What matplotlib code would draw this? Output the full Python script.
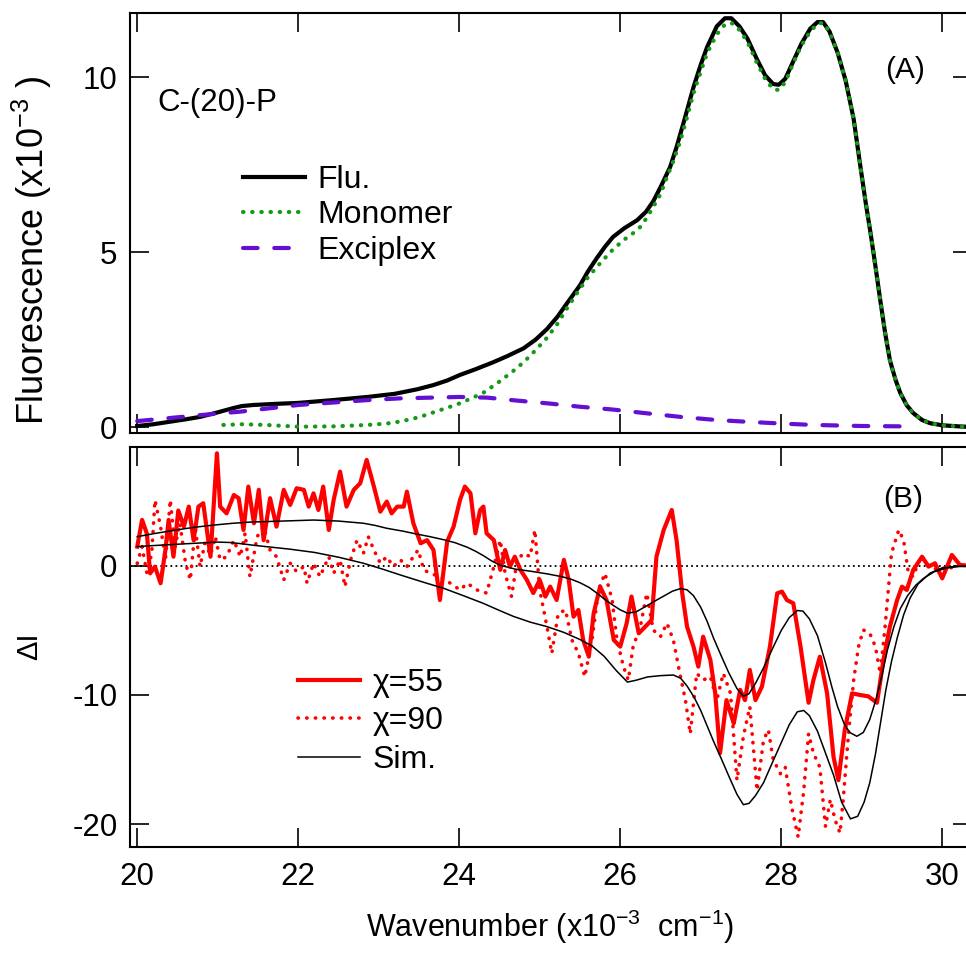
import matplotlib
matplotlib.use("Agg")
import matplotlib.pyplot as plt

plt.rcParams['font.family'] = ['Liberation Sans', 'DejaVu Sans']
plt.rcParams['mathtext.fontset'] = 'custom'
plt.rcParams['mathtext.rm'] = 'Liberation Sans'
plt.rcParams['mathtext.it'] = 'Liberation Sans:italic'
plt.rcParams['mathtext.bf'] = 'Liberation Sans:bold'
plt.rcParams['axes.unicode_minus'] = False

# ---- panel A: fluorescence spectrum and its decomposition (x10^-3) ----
flu_x = [20.0, 20.2, 20.4, 20.6, 20.78, 21.0, 21.19, 21.3, 21.44, 21.7, 22.0,
         22.43, 22.86, 23.2, 23.48, 23.68, 23.85, 24.01, 24.2, 24.42, 24.6, 24.8,
         24.95, 25.09, 25.22, 25.34, 25.5, 25.6, 25.71, 25.81, 25.91, 26.05, 26.21,
         26.32, 26.41, 26.5, 26.62, 26.7, 26.8, 26.91, 27.0, 27.08, 27.2, 27.3,
         27.38, 27.48, 27.58, 27.7, 27.8, 27.9, 27.97, 28.05, 28.15, 28.25, 28.36,
         28.45, 28.52, 28.6, 28.7, 28.8, 28.9, 28.98, 29.05, 29.11, 29.17, 29.23,
         29.29, 29.35, 29.42, 29.48, 29.56, 29.64, 29.75, 29.85, 30.0, 30.2, 30.37]
flu_y = [0.03, 0.08, 0.15, 0.22, 0.29, 0.42, 0.54, 0.6, 0.63, 0.66, 0.69,
         0.77, 0.86, 0.95, 1.08, 1.2, 1.33, 1.49, 1.65, 1.85, 2.03, 2.25,
         2.5, 2.8, 3.15, 3.54, 4.05, 4.45, 4.83, 5.15, 5.43, 5.68, 5.91,
         6.15, 6.45, 6.85, 7.43, 8.0, 8.8, 9.71, 10.35, 10.86, 11.45, 11.68,
         11.68, 11.45, 11.1, 10.5, 10.05, 9.8, 9.78, 9.95, 10.45, 10.95, 11.38,
         11.57, 11.57, 11.3, 10.7, 9.9, 8.8, 7.5, 6.4, 5.54, 4.6, 3.63,
         2.7, 1.91, 1.35, 0.97, 0.62, 0.4, 0.2, 0.11, 0.05, 0.02, 0.0]

mono_x = [21.07, 21.3, 21.6, 22.0, 22.44, 22.86, 23.1, 23.27, 23.5, 23.68, 23.85,
          24.01, 24.15, 24.3, 24.5, 24.67, 24.8, 24.95, 25.09, 25.22, 25.34, 25.47,
          25.59, 25.7, 25.79, 25.9, 26.04, 26.15, 26.25, 26.33, 26.41, 26.5, 26.58,
          26.66, 26.75, 26.83, 26.91, 27.0, 27.08, 27.2, 27.3, 27.38, 27.48, 27.58,
          27.7, 27.8, 27.9, 27.97, 28.05, 28.15, 28.25, 28.36, 28.45, 28.52, 28.6,
          28.7, 28.8, 28.9, 28.98, 29.05, 29.11, 29.17, 29.23, 29.29, 29.35, 29.42,
          29.48, 29.56, 29.64, 29.75, 29.85, 30.0, 30.2, 30.37]
mono_y = [0.06, 0.08, 0.06, 0.01, 0.02, 0.06, 0.1, 0.16, 0.28, 0.42, 0.55,
          0.68, 0.82, 0.98, 1.3, 1.6, 1.85, 2.2, 2.55, 2.95, 3.4, 3.85,
          4.25, 4.55, 4.78, 5.05, 5.34, 5.52, 5.72, 5.98, 6.29, 6.65, 7.14,
          7.6, 8.2, 8.85, 9.54, 10.15, 10.69, 11.22, 11.5, 11.55, 11.35, 11.0,
          10.4, 9.95, 9.65, 9.63, 9.85, 10.4, 10.9, 11.3, 11.52, 11.55, 11.3,
          10.7, 9.9, 8.8, 7.5, 6.4, 5.54, 4.6, 3.63, 2.7, 1.91, 1.35,
          0.97, 0.62, 0.4, 0.2, 0.11, 0.05, 0.02, 0.0]

exc_x = [20.0, 20.78, 21.28, 22.0, 22.86, 23.27, 24.01, 24.35, 24.7, 25.13, 25.5,
         25.91, 26.3, 26.75, 27.2, 27.58, 28.0, 28.4, 29.0, 29.5]
exc_y = [0.17, 0.34, 0.44, 0.63, 0.77, 0.82, 0.86, 0.84, 0.76, 0.67, 0.58,
         0.5, 0.4, 0.29, 0.2, 0.15, 0.1, 0.06, 0.03, 0.02]

# ---- panel B: difference spectra (measured) and simulations ----
c55_x = [20.0, 20.06, 20.12, 20.16, 20.22, 20.29, 20.35, 20.39, 20.45, 20.51, 20.58,
         20.64, 20.7, 20.76, 20.82, 20.91, 20.99, 21.03, 21.11, 21.2, 21.26, 21.32,
         21.38, 21.45, 21.51, 21.57, 21.65, 21.73, 21.82, 21.9, 21.98, 22.07, 22.13,
         22.19, 22.25, 22.31, 22.38, 22.44, 22.52, 22.6, 22.69, 22.77, 22.85, 22.94,
         23.02, 23.1, 23.16, 23.23, 23.31, 23.35, 23.43, 23.52, 23.6, 23.68, 23.76,
         23.85, 23.93, 24.01, 24.07, 24.14, 24.2, 24.26, 24.3, 24.34, 24.43, 24.51,
         24.57, 24.63, 24.69, 24.76, 24.84, 24.92, 25.0, 25.07, 25.13, 25.21, 25.3,
         25.36, 25.42, 25.48, 25.54, 25.61, 25.67, 25.75, 25.83, 25.92, 26.0, 26.08,
         26.14, 26.23, 26.31, 26.39, 26.45, 26.54, 26.64, 26.7, 26.77, 26.83, 26.91,
         26.97, 27.03, 27.12, 27.18, 27.24, 27.32, 27.41, 27.49, 27.55, 27.61, 27.68,
         27.76, 27.86, 27.95, 28.01, 28.07, 28.15, 28.24, 28.34, 28.4, 28.48, 28.57,
         28.65, 28.71, 28.79, 28.88, 28.98, 29.08, 29.19, 29.27, 29.35, 29.44, 29.5,
         29.56, 29.64, 29.75, 29.83, 29.91, 30.0, 30.12, 30.22, 30.37]
c55_y = [1.5, 3.57, 2.5, -0.57, -0.05, -1.34, 1.24, 3.57, 0.72, 4.3, 3.05,
         4.6, 2.0, 4.6, 4.86, 0.72, 8.73, 4.6, 4.08, 5.5, 5.25, 2.79,
         6.15, 3.31, 5.9, 2.0, 5.25, 3.05, 5.9, 4.73, 6.02, 5.9, 4.6,
         5.63, 4.34, 6.15, 2.79, 5.12, 7.31, 4.6, 5.9, 6.41, 8.22, 6.15,
         4.21, 4.99, 4.08, 4.6, 4.6, 5.76, 3.31, 1.76, 2.0, 1.24, -2.64,
         1.89, 3.05, 5.12, 6.15, 5.63, 2.53, 4.34, 4.6, 2.53, 2.0, -0.3,
         1.24, -0.05, 0.72, -0.3, -1.08, -2.1, -1.08, -2.37, -1.6, -2.64, 0.47,
         -1.08, -3.93, -3.41, -5.74, -7.03, -3.67, -1.6, -2.64, -5.74, -6.25, -4.44,
         -2.37, -5.22, -4.7, -4.19, 0.72, 2.79, 4.34, 2.0, -2.1, -4.7, -6.25,
         -7.8, -5.48, -7.29, -9.87, -14.5, -10.4, -12.2, -9.6, -10.4, -8.06, -10.4,
         -9.35, -6.25, -2.12, -1.99, -2.64, -2.89, -6.25, -10.6, -8.84, -7.03, -9.87,
         -14.8, -16.6, -12.7, -9.87, -10.0, -10.1, -10.6, -7.29, -4.7, -2.64, -1.6,
         -1.86, -0.3, 0.72, -0.05, 0.21, -0.96, 0.85, 0.08, 0.0]

c90_x = [20.0, 20.06, 20.12, 20.18, 20.22, 20.29, 20.35, 20.41, 20.47, 20.53, 20.6,
         20.66, 20.72, 20.78, 20.84, 20.91, 20.97, 21.03, 21.11, 21.2, 21.28, 21.34,
         21.4, 21.49, 21.57, 21.65, 21.73, 21.82, 21.9, 21.98, 22.07, 22.11, 22.19,
         22.27, 22.38, 22.44, 22.52, 22.58, 22.65, 22.73, 22.81, 22.87, 22.94, 23.02,
         23.1, 23.18, 23.27, 23.35, 23.43, 23.49, 23.56, 23.64, 23.76, 23.89, 24.01,
         24.1, 24.22, 24.34, 24.43, 24.51, 24.57, 24.65, 24.72, 24.8, 24.88, 24.94,
         25.0, 25.09, 25.15, 25.23, 25.32, 25.4, 25.48, 25.56, 25.65, 25.73, 25.81,
         25.9, 25.96, 26.04, 26.1, 26.16, 26.25, 26.33, 26.41, 26.5, 26.58, 26.66,
         26.74, 26.81, 26.87, 26.95, 27.03, 27.12, 27.2, 27.28, 27.37, 27.45, 27.53,
         27.61, 27.7, 27.78, 27.84, 27.9, 27.99, 28.05, 28.13, 28.21, 28.28, 28.34,
         28.4, 28.48, 28.55, 28.61, 28.67, 28.73, 28.77, 28.84, 28.9, 28.96, 29.02,
         29.1, 29.17, 29.23, 29.29, 29.37, 29.46, 29.52, 29.58, 29.64, 29.73, 29.81,
         29.89, 29.97, 30.06, 30.18, 30.37]
c90_y = [0.2, 1.5, -0.57, 0.98, 5.1, 3.05, 0.47, 5.12, 1.5, 3.31, 0.21,
         -1.08, 3.05, -0.05, 1.76, 0.85, 2.27, 0.47, 0.72, 2.0, 0.72, 2.53,
         -0.83, 2.27, 3.05, 1.24, 0.72, -1.08, 0.21, -0.44, -0.05, -1.34, 0.21,
         -0.83, 0.72, -0.57, 0.47, -1.6, 0.47, 2.0, 0.98, 2.27, 1.24, 0.21,
         0.72, -0.05, 0.47, -0.05, 0.72, 1.24, -0.3, -0.57, -0.83, -1.34, -1.86,
         -1.34, -1.86, -2.1, -0.05, 2.0, -0.57, -2.37, 0.47, 0.98, 0.72, 2.79,
         -1.86, -4.7, -6.77, -3.67, -3.41, -5.74, -6.77, -8.58, -5.74, -1.86, -0.57,
         -2.64, -5.74, -7.8, -8.84, -6.25, -4.7, -2.12, -4.96, -5.48, -4.44, -5.74,
         -8.32, -10.4, -13.0, -8.32, -8.84, -8.58, -10.4, -8.32, -9.87, -16.6, -13.2,
         -10.9, -17.4, -13.5, -12.7, -15.0, -16.1, -15.6, -18.7, -21.0, -17.4, -13.0,
         -14.5, -15.6, -20.2, -18.1, -19.7, -20.7, -18.1, -12.7, -8.84, -6.25, -4.96,
         -5.22, -6.25, -8.32, -4.7, 0.98, 2.79, 2.0, -0.57, -0.83, 0.72, 0.21,
         -0.3, -0.05, -0.3, 0.08, 0.0]

sim55_x = [20.0, 20.2, 20.37, 20.6, 20.78, 21.0, 21.19, 21.4, 21.6, 21.9, 22.19,
           22.5, 22.81, 22.95, 23.1, 23.3, 23.45, 23.63, 23.81, 23.95, 24.1, 24.2,
           24.3, 24.4, 24.51, 24.7, 24.88, 25.1, 25.29, 25.4, 25.5, 25.61, 25.71,
           25.8, 25.9, 26.0, 26.09, 26.2, 26.34, 26.45, 26.55, 26.65, 26.75, 26.83,
           26.91, 27.0, 27.08, 27.16, 27.25, 27.35, 27.45, 27.53, 27.6, 27.68, 27.78,
           27.9, 28.0, 28.1, 28.2, 28.27, 28.35, 28.45, 28.55, 28.63, 28.7, 28.78,
           28.85, 28.94, 29.02, 29.1, 29.18, 29.25, 29.32, 29.4, 29.48, 29.57, 29.67,
           29.77, 29.9, 30.06, 30.2, 30.37]
sim55_y = [2.27, 2.5, 2.67, 2.9, 3.05, 3.2, 3.31, 3.4, 3.44, 3.5, 3.56,
           3.48, 3.31, 3.15, 2.92, 2.7, 2.5, 2.28, 2.03, 1.8, 1.45, 1.15,
           0.8, 0.4, 0.05, -0.25, -0.4, -0.62, -0.85, -1.05, -1.3, -1.65, -2.1,
           -2.55, -3.0, -3.4, -3.66, -3.55, -3.05, -2.65, -2.3, -1.95, -1.75, -1.85,
           -2.3, -3.2, -4.3, -5.6, -6.9, -8.3, -9.5, -10.1, -9.9, -9.1, -7.9,
           -6.3, -5.0, -4.0, -3.45, -3.5, -4.1, -5.4, -7.5, -9.4, -10.9, -12.2,
           -12.9, -13.2, -12.9, -11.9, -10.3, -8.5, -6.5, -4.7, -3.3, -2.3, -1.5,
           -0.95, -0.45, -0.15, -0.04, 0.0]

sim90_x = [20.0, 20.2, 20.4, 20.6, 20.78, 21.0, 21.15, 21.3, 21.45, 21.6, 21.9,
           22.2, 22.5, 22.81, 23.05, 23.27, 23.55, 23.81, 24.05, 24.3, 24.5, 24.67,
           24.88, 25.09, 25.3, 25.5, 25.65, 25.8, 25.95, 26.09, 26.2, 26.34, 26.5,
           26.66, 26.75, 26.83, 26.92, 27.0, 27.08, 27.16, 27.26, 27.35, 27.45, 27.53,
           27.6, 27.68, 27.78, 27.9, 28.0, 28.1, 28.2, 28.28, 28.35, 28.45, 28.55,
           28.65, 28.75, 28.86, 28.95, 29.03, 29.1, 29.17, 29.23, 29.3, 29.37, 29.44,
           29.52, 29.6, 29.7, 29.85, 30.0, 30.2, 30.37]
sim90_y = [1.5, 1.58, 1.65, 1.72, 1.78, 1.85, 1.82, 1.72, 1.6, 1.5, 1.3,
           1.05, 0.68, 0.21, -0.25, -0.7, -1.25, -1.74, -2.3, -2.9, -3.45, -3.9,
           -4.35, -4.7, -5.15, -5.7, -6.2, -7.0, -8.1, -9.0, -8.85, -8.6, -8.5,
           -8.45, -8.7, -9.3, -10.2, -11.2, -12.4, -13.6, -15.0, -16.3, -17.7, -18.5,
           -18.4, -17.8, -16.8, -15.1, -13.7, -12.3, -11.3, -11.2, -11.6, -12.8, -14.5,
           -16.2, -18.3, -19.6, -19.4, -18.3, -16.8, -14.6, -12.3, -9.6, -7.4, -5.6,
           -3.8, -2.5, -1.4, -0.55, -0.15, -0.03, 0.0]

x_ticks = [20, 22, 24, 26, 28, 30]
a_ticks = [0, 5, 10]
b_ticks = [-20, -10, 0]

W, H = 966, 960
fig = plt.figure(figsize=(W / 100, H / 100), dpi=100)
ax1 = fig.add_axes([130 / W, 1 - 433 / H, 842 / W, 420 / H])
ax2 = fig.add_axes([130 / W, 1 - 847 / H, 842 / W, 400 / H])

for ax in (ax1, ax2):
    ax.tick_params(direction='in', length=13.5, width=1.2, top=True, right=True,
                   labelsize=22.5, color='black')
    ax.tick_params(axis='y', pad=9)
    ax.tick_params(axis='x', pad=11)
    for s in ax.spines.values():
        s.set_linewidth(1.5)
    ax.set_xlim(19.91, 30.37)
    ax.set_xticks(x_ticks)

ax1.set_ylim(-0.17, 11.83)
ax1.set_yticks(a_ticks)
ax1.tick_params(axis='x', labelbottom=False)

ax2.set_ylim(-21.78, 9.22)
ax2.set_yticks(b_ticks)

# panel A curves
h_flu, = ax1.plot(flu_x, flu_y, color='black', lw=3.0, solid_joinstyle='round',
                  label='Flu.')
h_mono, = ax1.plot(mono_x, mono_y, color='#159a15', lw=3.0, ls=(0, (0.1, 2.1)),
                   dash_capstyle='round', label='Monomer')
h_exc, = ax1.plot(exc_x, exc_y, color='#6410d2', lw=3.0, ls=(0, (3.5, 4.0)),
                  dash_capstyle='round', label='Exciplex')
ax1.legend(handles=[h_flu, h_mono, h_exc], loc='upper left',
           bbox_to_anchor=(0.134, 0.638), frameon=False, fontsize=23,
           handlelength=1.95, handletextpad=0.38, labelspacing=0.17,
           borderpad=0, borderaxespad=0)
ax1.text(0.033, 0.767, 'C-(20)-P', transform=ax1.transAxes, fontsize=22.5,
         va='baseline', ha='left')
ax1.text(0.897, 0.845, '(A)', transform=ax1.transAxes, fontsize=21.5,
         va='baseline', ha='left')

# panel B curves
ax2.axhline(0, color='black', lw=1.3, ls=(0, (1, 1.8)))
h90, = ax2.plot(c90_x, c90_y, color='#ff0000', lw=2.6, ls=(0, (0.1, 2.3)),
                dash_capstyle='round', label='χ=90')
h55, = ax2.plot(c55_x, c55_y, color='#ff0000', lw=3.0, solid_joinstyle='round',
                label='χ=55')
h_sim, = ax2.plot(sim55_x, sim55_y, color='black', lw=1.1, label='Sim.')
ax2.plot(sim90_x, sim90_y, color='black', lw=1.1)
ax2.legend(handles=[h55, h90, h_sim], loc='upper left',
           bbox_to_anchor=(0.1995, 0.4475), frameon=False, fontsize=23,
           handlelength=1.95, handletextpad=0.38, labelspacing=0.265,
           borderpad=0, borderaxespad=0)
ax2.text(0.894, 0.85, '(B)', transform=ax2.transAxes, fontsize=21.5,
         va='baseline', ha='left')

# axis titles
fig.text(550 / W, 1 - 927 / H, 'Wavenumber (x10$^{-3}$  cm$^{-1}$)', fontsize=22,
         ha='center', va='center')
fig.text(32 / W, 1 - 250 / H, 'Fluorescence (x10$^{-3}$ )', fontsize=26,
         rotation=90, ha='center', va='center')
fig.text(29 / W, 1 - 646 / H, 'ΔI', fontsize=21, rotation=90,
         ha='center', va='center')

fig.savefig('out.png', dpi=100)
